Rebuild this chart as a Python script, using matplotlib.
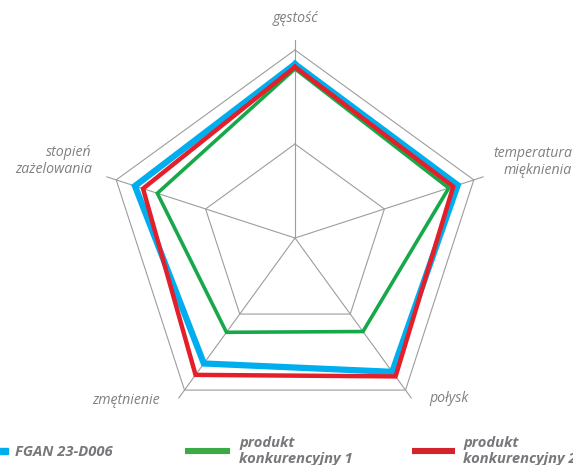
import numpy as np
import matplotlib
matplotlib.use('Agg')
import matplotlib.pyplot as plt

categories = ['gęstość', 'temperatura\nmięknienia', 'połysk', 'zmętnienie', 'stopień\nzażelowania']
fgan = [9.25, 9.1, 8.8, 8.25, 8.95]
konk1 = [9.0, 8.6, 6.15, 6.2, 7.7]
konk2 = [9.1, 8.85, 9.1, 9.0, 8.5]
series_names = ['FGAN 23-D006', 'produkt\nkonkurencyjny 1', 'produkt\nkonkurencyjny 2']

blue = '#00aeef'
green = '#17a84b'
red = '#e3202a'
grid_col = '#9d9d9d'
text_col = '#808080'

plt.rcParams['font.family'] = ['Open Sans', 'DejaVu Sans']

W, H = 573, 465
fig = plt.figure(figsize=(W / 100, H / 100), dpi=100)

cx, cy, R = 295, 238, 188
rmax = 10.55
rad = R * rmax / 10
ax = fig.add_axes([(cx - rad) / W, (H - cy - rad) / H, 2 * rad / W, 2 * rad / H], projection='polar')
ax.set_theta_zero_location('N')
ax.set_theta_direction(-1)
ax.set_ylim(0, rmax)
ax.axis('off')

angles = np.linspace(0, 2 * np.pi, len(categories), endpoint=False)
closed = np.append(angles, angles[0])

# siatka
for a in angles:
    ax.plot([a, a], [0, rmax], color=grid_col, lw=0.8, zorder=1)
for lvl in [5, 10]:
    ax.plot(closed, [lvl] * len(closed), color=grid_col, lw=0.8, zorder=1)

ax.plot(closed, fgan + fgan[:1], color=blue, lw=4.5, zorder=3, solid_joinstyle='miter')
ax.plot(closed, konk1 + konk1[:1], color=green, lw=2.6, zorder=4, solid_joinstyle='miter')
ax.plot(closed, konk2 + konk2[:1], color=red, lw=3.2, zorder=5, solid_joinstyle='miter')

def px(x, y):
    return x / W, 1 - y / H

lab = dict(color=text_col, style='italic', fontsize=10.2)
fig.text(*px(295, 18), categories[0], ha='center', va='center', **lab)
fig.text(*px(572, 162), categories[1], ha='right', va='center', linespacing=1.2, **lab)
fig.text(*px(429, 399), categories[2], ha='left', va='center', **lab)
fig.text(*px(160, 401), categories[3], ha='right', va='center', **lab)
fig.text(*px(92, 161), categories[4], ha='right', va='center', linespacing=1.2, **lab)

# legenda
leg_col = '#77787b'
legt = dict(color=leg_col, style='italic', fontweight='bold', fontsize=10.6, va='center', ha='left')
fig.patches.append(plt.Rectangle(px(0, 454), 8 / W, 6 / H, transform=fig.transFigure, color=blue))
fig.text(*px(15, 452), series_names[0], **legt)
fig.lines.append(plt.Line2D([185 / W, 230 / W], [1 - 451 / H] * 2, transform=fig.transFigure,
                            color='#3aaa45', lw=4.4, solid_capstyle='butt'))
fig.text(*px(239, 451), series_names[1], linespacing=1.15, **legt)
fig.lines.append(plt.Line2D([412 / W, 455 / W], [1 - 451 / H] * 2, transform=fig.transFigure,
                            color='#d4242b', lw=4.4, solid_capstyle='butt'))
fig.text(*px(463, 451), series_names[2], linespacing=1.15, **legt)

fig.savefig('out.png', dpi=100)
